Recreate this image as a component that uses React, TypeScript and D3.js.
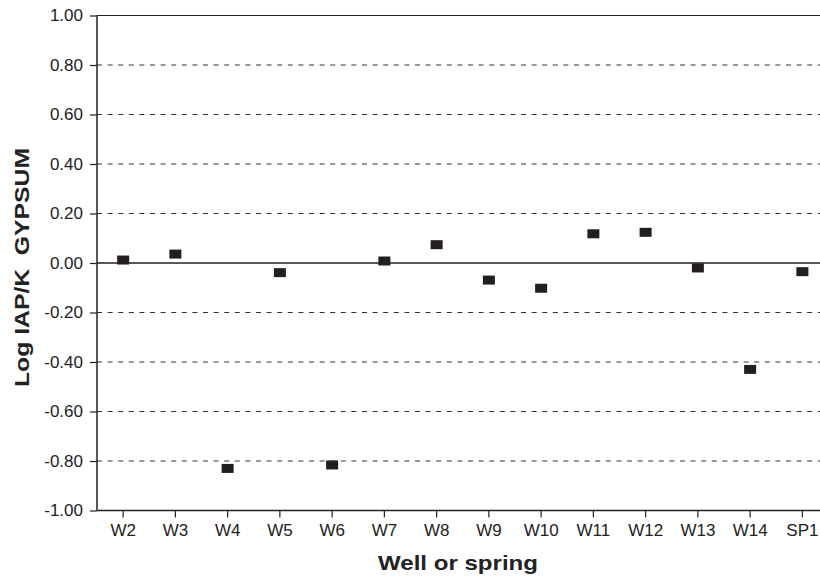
import * as d3 from 'd3'
import React, { useEffect, useRef } from 'react'

const sites = ['W2', 'W3', 'W4', 'W5', 'W6', 'W7', 'W8', 'W9', 'W10', 'W11', 'W12', 'W13', 'W14', 'SP1']
const logIapK = [0.012, 0.036, -0.83, -0.039, -0.816, 0.008, 0.074, -0.069, -0.102, 0.118, 0.124, -0.02, -0.43, -0.035]
const yTicks = [-1, -0.8, -0.6, -0.4, -0.2, 0, 0.2, 0.4, 0.6, 0.8, 1]

const W = 820
const H = 577

const App = () => {
  const ref = useRef<SVGSVGElement>(null)

  useEffect(() => {
    const svg = d3.select(ref.current)
    svg.selectAll('*').remove()

    const left = 97
    const top = 15.5
    const bottom = 510.5
    const font = 'Liberation Sans, Arial, sans-serif'

    const x = d3.scaleBand<string>().domain(sites).range([left, 828.5])
    const y = d3.scaleLinear().domain([-1, 1]).range([bottom, top])

    // dashed grid lines
    svg
      .append('g')
      .selectAll('line')
      .data(yTicks.filter((t) => t !== 0 && t !== 1 && t !== -1))
      .join('line')
      .attr('x1', left)
      .attr('x2', W)
      .attr('y1', (d) => y(d))
      .attr('y2', (d) => y(d))
      .attr('stroke', '#333')
      .attr('stroke-width', 1)
      .attr('stroke-dasharray', '5,5.6')

    // zero line and top border
    svg.append('line').attr('x1', left).attr('x2', W).attr('y1', y(0)).attr('y2', y(0))
      .attr('stroke', '#222').attr('stroke-width', 1.5)
    svg.append('line').attr('x1', left).attr('x2', W).attr('y1', y(1)).attr('y2', y(1))
      .attr('stroke', '#222').attr('stroke-width', 1.2)

    // y axis (plain hyphen for negatives, like the original)
    const yAxis = d3
      .axisLeft(y)
      .tickValues(yTicks)
      .tickFormat((d) => (d as number).toFixed(2))
      .tickSize(7)
      .tickPadding(7)
    const gy = svg.append('g').attr('transform', `translate(${left},0)`).call(yAxis)
    gy.select('.domain').remove()
    gy.append('line').attr('x1', 0).attr('x2', 0).attr('y1', top).attr('y2', bottom)
      .attr('stroke', '#222').attr('stroke-width', 1.5)
    gy.selectAll('.tick line').attr('stroke', '#222').attr('stroke-width', 1.2)
    gy.selectAll('.tick text')
      .attr('font-family', font)
      .attr('font-size', 17)
      .attr('fill', '#222')

    // x axis
    const xAxis = d3.axisBottom(x).tickSize(7).tickPadding(6)
    const gx = svg.append('g').attr('transform', `translate(0,${bottom})`).call(xAxis)
    gx.select('.domain').remove()
    gx.append('line').attr('x1', left).attr('x2', W).attr('y1', 0).attr('y2', 0)
      .attr('stroke', '#222').attr('stroke-width', 1.5)
    gx.selectAll('.tick line').attr('stroke', '#222').attr('stroke-width', 1.2)
    gx.selectAll('.tick text')
      .attr('font-family', font)
      .attr('font-size', 17)
      .attr('fill', '#222')

    // points
    svg
      .append('g')
      .selectAll('rect')
      .data(sites)
      .join('rect')
      .attr('x', (d) => (x(d) ?? 0) + x.bandwidth() / 2 - 6)
      .attr('y', (_, i) => y(logIapK[i]) - 4.5)
      .attr('width', 12)
      .attr('height', 9)
      .attr('fill', '#231f20')

    // axis titles
    svg
      .append('text')
      .attr('x', 458)
      .attr('y', 570)
      .attr('text-anchor', 'middle')
      .attr('font-family', font)
      .attr('font-weight', 'bold')
      .attr('font-size', 21)
      .attr('fill', '#222')
      .attr('textLength', 160)
      .attr('lengthAdjust', 'spacingAndGlyphs')
      .text('Well or spring')

    svg
      .append('text')
      .attr('transform', 'translate(29,267.5) rotate(-90)')
      .attr('text-anchor', 'middle')
      .attr('font-family', font)
      .attr('font-weight', 'bold')
      .attr('font-size', 21)
      .attr('fill', '#222')
      .attr('textLength', 239)
      .attr('lengthAdjust', 'spacingAndGlyphs')
      .attr('xml:space', 'preserve')
      .style('white-space', 'pre')
      .text('Log IAP/K  GYPSUM')
  }, [])

  return (
    <svg
      ref={ref}
      width={W}
      height={H}
      style={{ position: 'absolute', left: 0, top: 0, background: '#fff', overflow: 'hidden' }}
    />
  )
}

export default App
